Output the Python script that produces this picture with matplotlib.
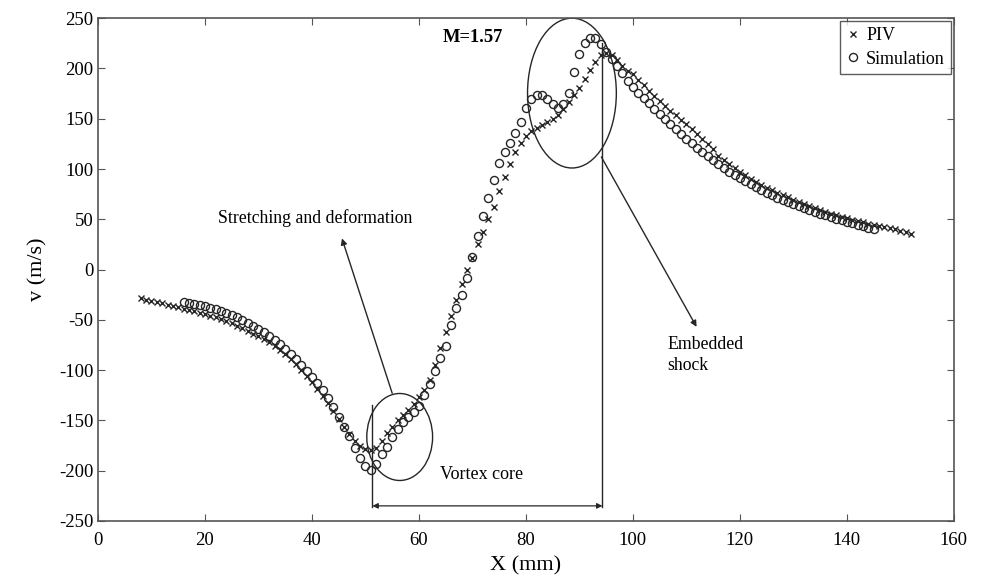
import numpy as np
import matplotlib
matplotlib.use('Agg')
import matplotlib.pyplot as plt
from matplotlib.patches import Ellipse

plt.rcParams['font.family'] = ['Liberation Serif', 'DejaVu Serif']
plt.rcParams['axes.unicode_minus'] = False

# PIV measurement, one reading per mm
piv_x = list(range(8, 153))
piv_v = [-28, -30, -31, -32, -33, -35, -36, -37, -39, -40,
         -41, -43, -44, -46, -47, -49, -51, -53, -56, -58,
         -61, -64, -66, -69, -72, -76, -80, -84, -89, -94,
         -100, -106, -112, -119, -126, -133, -141, -149, -157, -164,
         -170, -175, -178, -179, -177, -170, -163, -157, -150, -145,
         -140, -134, -127, -120, -110, -95, -78, -62, -46, -30,
         -14, 0, 11, 25, 37, 50, 62, 78, 92, 105,
         117, 126, 133, 138, 141, 144, 147, 150, 154, 160,
         167, 174, 181, 190, 198, 206, 213, 215, 213, 208,
         202, 197, 194, 189, 184, 178, 173, 168, 163, 158,
         154, 149, 145, 140, 135, 130, 125, 120, 113, 109,
         105, 101, 97, 94, 90, 87, 84, 81, 79, 76,
         74, 72, 69, 67, 65, 63, 61, 59, 57, 55,
         54, 52, 51, 49, 48, 47, 45, 44, 43, 42,
         41, 40, 38, 37, 35]

# Simulation result
sim_x = list(range(16, 146))
sim_v = [-32, -33, -34, -35, -36, -38, -39, -41, -43, -45,
         -47, -50, -53, -56, -59, -62, -66, -70, -74, -79,
         -84, -89, -95, -101, -107, -113, -120, -128, -137, -147,
         -157, -166, -177, -187, -195, -199, -193, -183, -176, -167,
         -159, -152, -147, -142, -136, -125, -114, -101, -88, -76,
         -55, -38, -25, -8, 12, 33, 53, 71, 89, 106,
         117, 126, 136, 147, 161, 170, 174, 174, 170, 165,
         161, 165, 176, 196, 214, 225, 230, 230, 224, 216,
         209, 202, 195, 188, 182, 176, 171, 166, 160, 155,
         150, 145, 140, 135, 130, 126, 121, 117, 113, 109,
         105, 101, 97, 94, 91, 88, 85, 82, 79, 76,
         74, 71, 69, 67, 65, 63, 61, 59, 57, 55,
         54, 52, 50, 49, 47, 46, 44, 43, 41, 40]

xticks = list(range(0, 161, 20))
yticks = list(range(-250, 251, 50))

col = '#262626'

fig = plt.figure(figsize=(9.86, 5.86), dpi=100)
ax = fig.add_axes([0.0994, 0.111, 0.868, 0.858])

ax.plot(piv_x, piv_v, 'x', color=col, ms=4.5, mew=1.0, label='PIV')
ax.plot(sim_x, sim_v, 'o', mfc='none', mec=col, ms=5.8, mew=1.0,
        label='Simulation')

# Circled regions
ax.add_patch(Ellipse((56.4, -166.5), 12.3, 86.5, fill=False,
                     ec=col, lw=1.0))
ax.add_patch(Ellipse((88.6, 175.5), 16.6, 149, fill=False,
                     ec=col, lw=1.0))

# Vortex core extent
ax.plot([51.3, 51.3], [-236, -135], color=col, lw=1.0)
ax.plot([94.3, 94.3], [-236, 225], color=col, lw=1.0)
ax.annotate('', xy=(51.3, -235), xytext=(94.3, -235),
            arrowprops=dict(arrowstyle='<|-|>', color=col, lw=0.9,
                            mutation_scale=8, shrinkA=0, shrinkB=0))
ax.text(71.7, -204, 'Vortex core', ha='center', va='center', fontsize=13)

# Labels with arrows
ax.annotate('', xy=(45.6, 31), xytext=(55, -123),
            arrowprops=dict(arrowstyle='-|>', color=col, lw=1.0,
                            mutation_scale=9, shrinkA=0, shrinkB=0))
ax.text(40.6, 51, 'Stretching and deformation', ha='center',
        va='center', fontsize=12.8)

ax.annotate('', xy=(111.9, -57), xytext=(94.1, 112),
            arrowprops=dict(arrowstyle='-|>', color=col, lw=1.0,
                            mutation_scale=9, shrinkA=0, shrinkB=0))
ax.text(106.5, -85, 'Embedded\nshock', ha='left', va='center',
        fontsize=12.8, linespacing=1.3)

ax.text(70, 231, 'M=1.57', ha='center', va='center', fontsize=13.3,
        fontweight='bold')

ax.set_xlim(0, 160)
ax.set_ylim(-250, 250)
ax.set_xticks(xticks)
ax.set_yticks(yticks)
ax.tick_params(direction='in', top=True, right=True, labelsize=13.5,
               length=5, color='#555555')
ax.tick_params(axis='x', pad=8)
for s in ax.spines.values():
    s.set_color('#555555')
    s.set_linewidth(1.2)

ax.set_xlabel('X (mm)', fontsize=16, labelpad=5)
ax.set_ylabel('v (m/s)', fontsize=16, labelpad=8)

leg = ax.legend(loc='upper right', fontsize=13, frameon=True,
                fancybox=False, borderaxespad=0.15, handletextpad=0.3,
                handlelength=0.8, borderpad=0.35, labelspacing=0.35)
leg.get_frame().set_edgecolor('#333333')
leg.get_frame().set_linewidth(1.0)

fig.savefig('out.png', dpi=100)
